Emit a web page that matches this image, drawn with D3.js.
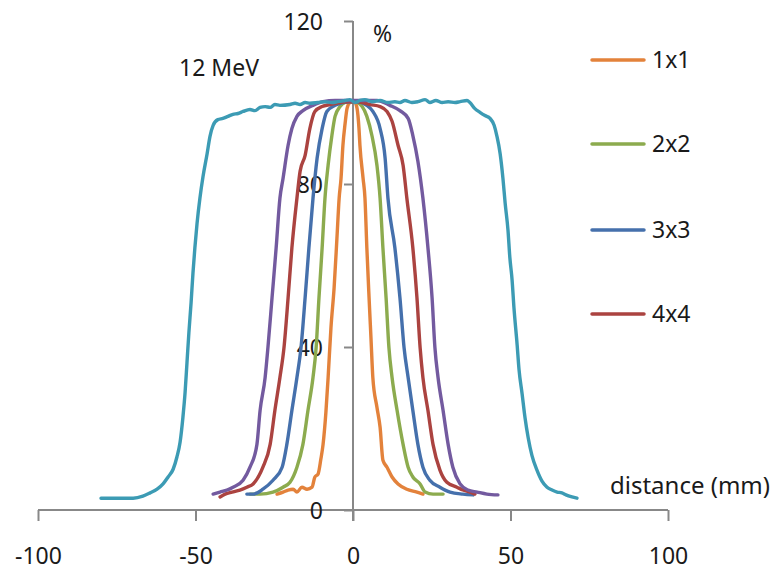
<!DOCTYPE html>
<html>
<head>
<meta charset="utf-8">
<script src="https://cdn.jsdelivr.net/npm/d3@7"></script>
<style>
  html, body { margin: 0; padding: 0; background: #fff; }
  svg { display: block; }
  text { font-family: "Noto Sans", "Open Sans", sans-serif; fill: #1a1a1a; }
</style>
</head>
<body>
<svg id="chart" width="774" height="572"></svg>
<script>
// ---- data (distance in mm, relative dose in %) ----
const seriesNames = ["1x1", "2x2", "3x3", "4x4", "5x5", "10x10"];
const legendNames = ["1x1", "2x2", "3x3", "4x4"];
const xTicks = [-100, -50, 0, 50, 100];
const yTicks = [0, 40, 80, 120];

const x1x1 = [-24.1,-22.2,-20.6,-19.0,-17.8,-16.2,-14.6,-13.0,-12.1,-11.1,-10.2,-9.5,-8.6,-7.9,-7.0,-6.0,-5.1,-4.4,-3.8,-3.2,-2.5,-1.9,-1.0,-0.3,
              0.6,1.3,1.9,2.2,3.2,3.8,4.4,5.1,5.7,6.3,7.6,8.6,9.5,10.8,12.4,14.3,17.1,20.3,22.2];
const y1x1 = [3.9,4.4,4.9,5.1,4.4,5.6,5.1,5.6,8.1,8.8,12.5,16.1,24.0,32.5,44.7,54.5,66.7,76.5,81.4,89.5,94.9,98.5,100.0,100.2,
              100.0,98.5,93.6,89.5,81.4,76.5,64.3,52.1,42.3,32.5,25.2,20.3,12.2,10.5,8.1,6.4,5.1,4.4,3.9];

const x2x2 = [-32.7,-29.5,-25.4,-22.2,-20.0,-17.8,-15.9,-14.3,-12.7,-11.7,-10.8,-9.8,-8.9,-7.9,-6.7,-5.7,-4.1,-2.5,-1.0,
              0.6,2.9,4.4,6.0,7.6,8.6,9.5,10.5,11.4,12.4,14.0,15.9,17.5,19.0,21.3,22.9,25.4,28.6];
const y2x2 = [3.9,3.9,4.4,5.6,6.8,10.5,16.1,24.4,32.5,39.9,52.1,64.3,76.5,84.6,91.9,96.6,99.0,100.0,100.2,
              100.2,99.0,96.6,91.9,84.6,76.5,64.3,52.1,39.9,32.5,24.4,16.1,10.5,8.1,6.4,4.4,3.9,3.9];

const x3x3 = [-33.7,-31.7,-28.6,-25.4,-22.5,-21.0,-19.4,-17.8,-16.5,-15.2,-14.0,-12.7,-11.4,-9.8,-8.3,-5.7,-3.2,-1.0,
              1.3,4.4,6.3,8.6,10.2,11.1,13.3,14.9,16.2,17.5,19.0,20.6,22.2,24.4,27.6,30.8,34.9,38.1];
const y3x3 = [3.9,3.9,5.1,7.3,10.5,16.1,24.4,32.5,39.9,52.1,64.3,76.5,86.3,93.6,97.8,99.3,100.0,100.2,
              100.2,99.3,97.8,93.6,86.3,76.5,64.3,52.1,39.9,32.5,24.4,16.1,10.5,7.3,5.6,4.4,3.9,3.7];

const x4x4 = [-42.2,-40.6,-38.4,-35.9,-33.7,-31.7,-28.6,-26.3,-24.8,-23.2,-21.9,-20.6,-19.4,-17.8,-16.8,-15.2,-13.7,-12.1,-9.8,-7.3,-4.1,-1.6,
              1.6,5.4,8.6,10.8,12.4,14.3,15.9,17.1,19.0,20.3,21.3,22.2,23.8,25.4,27.6,29.8,33.0,34.9,37.1,38.7];
const y4x4 = [3.2,3.9,4.4,4.9,5.6,6.4,10.5,16.1,24.4,32.5,39.9,52.1,64.3,76.5,83.1,87.0,93.6,97.8,99.0,99.5,100.0,100.2,
              100.2,99.5,99.0,97.8,95.4,89.5,84.6,76.5,64.3,52.1,39.9,32.5,24.4,16.1,9.8,6.8,5.6,4.9,4.4,3.9];

const x5x5 = [-44.4,-42.2,-40.0,-38.1,-34.9,-32.7,-30.5,-29.5,-27.9,-27.0,-25.7,-24.4,-23.2,-22.2,-20.6,-19.4,-17.8,-15.9,-12.7,-9.5,-5.7,-2.5,
              0.6,3.8,7.6,11.7,14.9,17.5,19.0,20.6,22.2,23.8,25.1,26.0,27.0,28.6,30.2,31.7,34.0,36.5,39.4,42.5,46.0];
const y5x5 = [3.9,4.4,4.9,5.6,7.3,10.5,16.1,24.4,32.5,39.9,52.1,64.3,76.5,81.4,89.5,93.6,96.6,98.0,99.3,100.2,100.5,100.5,
              100.5,100.5,100.5,99.3,98.0,96.1,91.9,85.6,76.5,64.3,52.1,39.9,32.5,24.4,16.1,10.5,6.4,4.9,4.4,3.9,3.7];

const x10x10 = [-80.0,-74.6,-69.8,-66.7,-64.4,-62.2,-60.3,-58.7,-57.1,-55.9,
                -54.9,-54.0,-53.3,-52.7,-52.1,-51.4,-50.8,-50.2,-49.5,-48.6,
                -47.6,-46.3,-45.4,-44.4,-42.9,-41.3,-39.7,-38.1,-36.5,-34.9,
                -32.7,-31.1,-29.5,-27.9,-26.3,-24.8,-23.2,-20.0,-18.4,-16.8,
                -15.2,-13.7,-11.1,-8.9,-6.7,-4.8,-2.5,-1.0,0.6,2.2,
                3.8,6.0,8.6,11.1,13.3,14.9,16.5,18.7,20.6,22.9,
                24.4,26.3,28.3,30.2,32.4,34.0,36.2,37.1,38.7,40.3,
                41.9,43.5,44.8,45.7,46.7,47.6,48.3,49.2,49.8,50.5,
                51.1,52.1,52.7,53.7,54.6,55.6,56.8,58.4,60.0,61.6,
                63.2,64.8,66.3,67.6,69.5,71.1];
const y10x10 = [2.9,2.9,2.9,3.4,4.2,5.1,6.4,8.1,10.0,13.0,
                16.6,22.7,28.9,36.2,43.5,50.9,58.2,64.3,70.4,76.5,
                81.9,87.5,91.7,94.4,95.8,96.1,96.6,97.1,97.3,97.8,
                98.3,98.0,98.8,99.0,98.8,99.5,99.3,99.5,99.8,99.5,
                100.0,99.8,100.0,100.2,100.0,100.2,100.5,100.7,100.0,100.5,
                100.7,100.2,100.5,100.0,100.2,100.0,100.5,100.0,100.2,100.7,
                100.0,100.5,100.0,100.2,100.0,100.2,100.5,100.0,98.5,97.6,
                96.8,96.1,94.4,91.7,87.5,81.4,75.3,68.7,61.9,56.5,
                49.6,40.6,34.5,28.4,22.7,17.8,13.4,9.8,7.1,5.6,
                4.9,4.4,4.2,3.7,3.2,2.9];

const seriesX = [x1x1, x2x2, x3x3, x4x4, x5x5, x10x10];
const seriesY = [y1x1, y2x2, y3x3, y4x4, y5x5, y10x10];
const colors = ["#E3823B", "#8CAB4E", "#4570AC", "#AB4340", "#735A9F", "#3C9BB4"];

// ---- chart ----
const svg = d3.select("#chart");
const x = d3.scaleLinear().domain([-100, 100]).range([38, 668]);
const y = d3.scaleLinear().domain([0, 120]).range([510, 21]);
const axisColor = "#888888";
const fmt = d => String(d);

// x axis
const xAxis = svg.append("g").attr("transform", `translate(0,${y(0)})`)
  .call(d3.axisBottom(x).tickValues(xTicks).tickSize(11).tickFormat(fmt));
xAxis.select(".domain").attr("d", `M${x(-100)},0H${x(100)}`);
xAxis.selectAll("line, path").attr("stroke", axisColor).attr("stroke-width", 2);
xAxis.selectAll("text").attr("font-size", 23).attr("dy", null).attr("y", 54)
  .style("font-family", "'Noto Sans', sans-serif").attr("fill", "#1a1a1a");

// y axis
const yAxis = svg.append("g").attr("transform", `translate(${x(0)},0)`)
  .call(d3.axisLeft(y).tickValues(yTicks).tickSize(9).tickFormat(fmt));
yAxis.select(".domain").attr("d", `M0,${y(120)}V${y(0) + 11}`);
yAxis.selectAll("line, path").attr("stroke", axisColor).attr("stroke-width", 2);
yAxis.selectAll("text").attr("font-size", 23).attr("x", -30).attr("dy", "0.35em")
  .style("font-family", "'Noto Sans', sans-serif").attr("fill", "#1a1a1a");

// series lines
const line = d3.line().x(d => x(d[0])).y(d => y(d[1])).curve(d3.curveMonotoneX);
seriesNames.forEach((name, i) => {
  const pts = seriesX[i].map((v, j) => [v, seriesY[i][j]]);
  svg.append("path").datum(pts)
    .attr("fill", "none").attr("stroke", colors[i]).attr("stroke-width", 3.4)
    .attr("stroke-linejoin", "round").attr("stroke-linecap", "round")
    .attr("d", line);
});

// labels
svg.append("text").attr("x", 373).attr("y", 42).attr("font-size", 23).text("%");
svg.append("text").attr("x", 179).attr("y", 76).attr("font-size", 23).text("12 MeV");
svg.append("text").attr("x", 610).attr("y", 494).attr("font-size", 24).text("distance (mm)");

// legend
const legendY = [60, 144, 230, 314];
legendNames.forEach((name, i) => {
  const g = svg.append("g").attr("transform", `translate(592,${legendY[i]})`);
  g.append("line").attr("x1", 0).attr("x2", 52).attr("y1", 0).attr("y2", 0)
    .attr("stroke", colors[i]).attr("stroke-width", 3.5).attr("stroke-linecap", "round");
  g.append("text").attr("x", 60).attr("y", 0).attr("dy", "0.36em").attr("font-size", 23).text(name);
});
</script>
</body>
</html>
